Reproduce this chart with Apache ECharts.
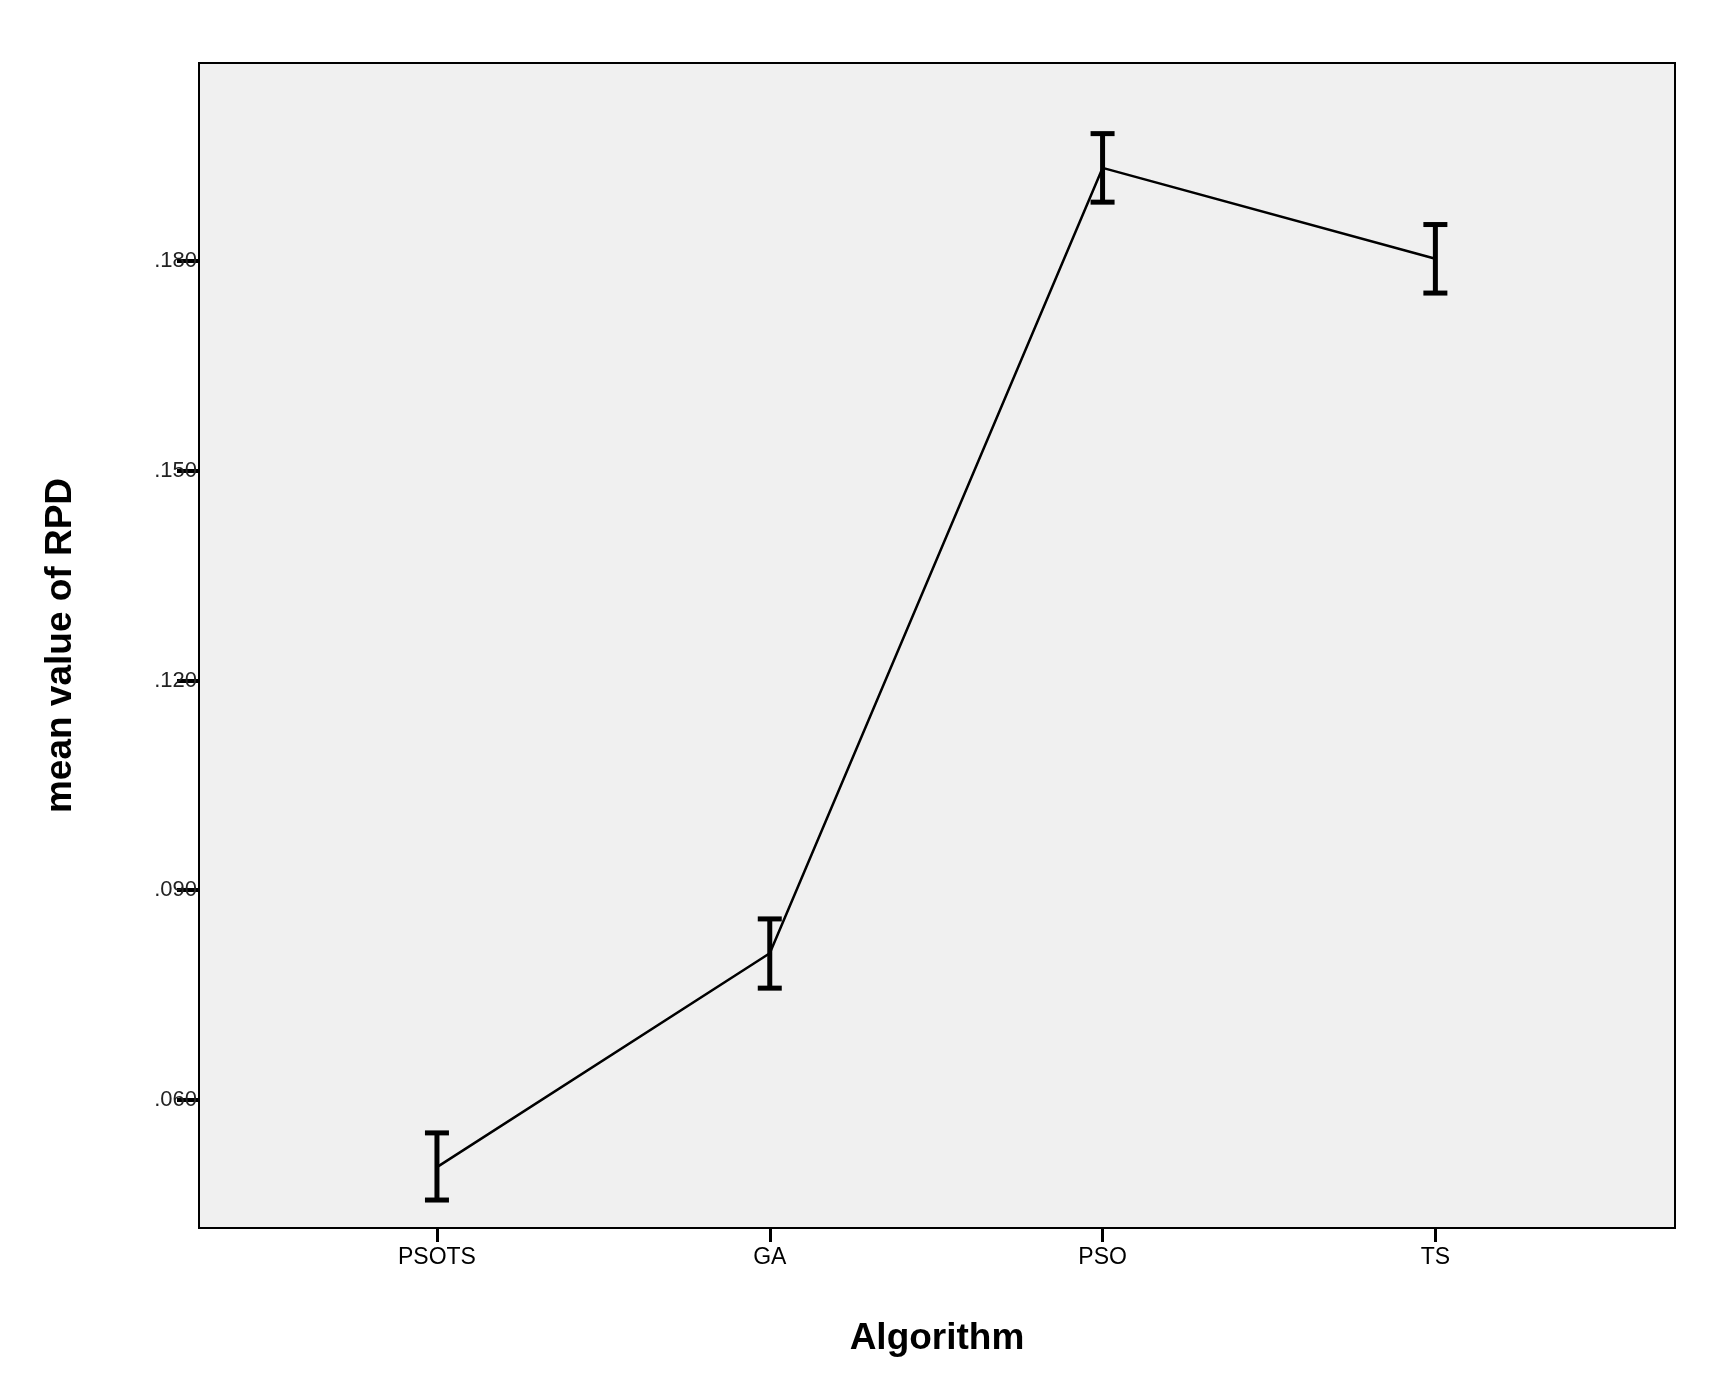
<!DOCTYPE html><html><head><meta charset="utf-8"><script src="https://cdn.jsdelivr.net/npm/echarts@6/dist/echarts.min.js"></script>
<style>html,body{margin:0;background:#fff}#c{width:1722px;height:1394px}</style></head><body><div id="c"></div><script>
const categories=['PSOTS','GA','PSO','TS'];
const means=[0.0504,0.0810,0.1933,0.1803];
const lows=[0.0457,0.0760,0.1884,0.1754];
const highs=[0.0553,0.0859,0.1982,0.1852];
const yTicks=[0.06,0.09,0.12,0.15,0.18];
const chart=echarts.init(document.getElementById('c'));
const F='Liberation Sans, Arial, sans-serif';
chart.setOption({
 animation:false,
 grid:{left:199,right:47,top:63,bottom:166,show:true,backgroundColor:'#f0f0f0',borderColor:'#000',borderWidth:2},
 xAxis:{type:'value',min:-0.715,max:3.72,name:'Algorithm',nameLocation:'middle',nameGap:92,
  nameTextStyle:{fontFamily:F,fontSize:37,fontWeight:'bold',color:'#000'},
  axisLine:{show:false,onZero:false},splitLine:{show:false},
  axisTick:{show:true,length:14,lineStyle:{color:'#000',width:3},customValues:[0,1,2,3]},
  axisLabel:{customValues:[0,1,2,3],formatter:v=>categories[Math.round(v)],fontFamily:F,fontSize:23,color:'#000',margin:18}},
 yAxis:{type:'value',min:0.0417,max:0.2083,name:'mean value of RPD',nameLocation:'middle',nameGap:120,
  nameTextStyle:{fontFamily:F,fontSize:37,fontWeight:'bold',color:'#000'},
  axisLine:{show:false,onZero:false},splitLine:{show:false},
  axisTick:{show:true,length:22,lineStyle:{color:'#000',width:4},customValues:yTicks},
  axisLabel:{customValues:yTicks,formatter:v=>v.toFixed(3).replace(/^0/,''),fontFamily:F,fontSize:22,color:'#222',margin:2}},
 series:[
  {type:'line',data:means.map((m,i)=>[i,m]),symbol:'none',lineStyle:{color:'#000',width:2.5},z:3},
  {type:'custom',z:4,data:means.map((m,i)=>[i,lows[i],highs[i]]),
   renderItem:(p,api)=>{const lo=api.coord([api.value(0),api.value(1)]),hi=api.coord([api.value(0),api.value(2)]);const w=12;
    const s={stroke:'#000',lineWidth:5};
    return {type:'group',children:[
     {type:'line',shape:{x1:lo[0],y1:lo[1],x2:hi[0],y2:hi[1]},style:s},
     {type:'line',shape:{x1:lo[0]-w,y1:lo[1],x2:lo[0]+w,y2:lo[1]},style:s},
     {type:'line',shape:{x1:hi[0]-w,y1:hi[1],x2:hi[0]+w,y2:hi[1]},style:s}]};}}
 ]
});
</script></body></html>
